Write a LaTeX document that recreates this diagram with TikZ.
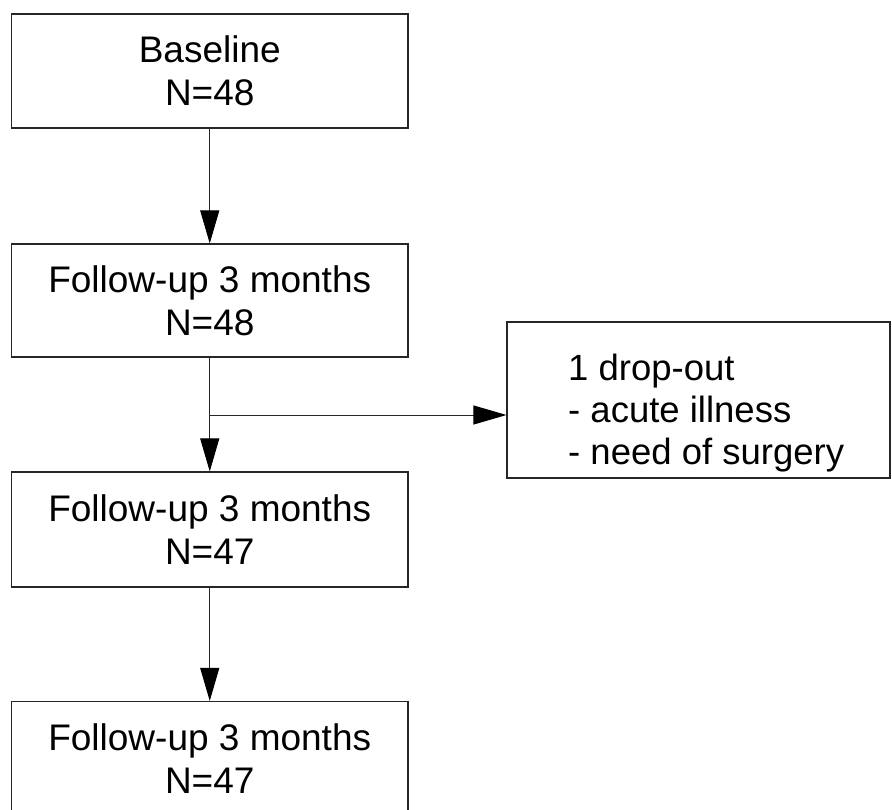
\documentclass[tikz,border=0pt]{standalone}
\usepackage{fontspec}
\setmainfont{Liberation Sans}
\usetikzlibrary{arrows.meta}
\begin{document}
\begin{tikzpicture}[x=1pt,y=-1pt,
  box/.style={draw=black!85,line width=1.1pt,minimum width=396.5pt,inner sep=0pt,align=center,font=\fontsize{37}{43}\selectfont},
  conn/.style={draw=black!85,line width=1pt,-{Triangle[length=33pt,width=19pt,color=black]}}]
\useasboundingbox (0,0) rectangle (892,809);
\node[box,minimum height=114pt] (b1) at (209.75,71) {Baseline\\N=48};
\node[box,minimum height=113pt] (b2) at (209.75,300.5) {Follow-up 3 months\\N=48};
\node[box,minimum height=115pt] (b3) at (209.75,529.5) {Follow-up 3 months\\N=47};
\node[box,minimum height=115pt] (b4) at (209.75,759) {Follow-up 3 months\\N=47};
\node[draw=black!85,line width=1.1pt,minimum width=383pt,minimum height=156pt,inner sep=0pt] (drop) at (698.5,400) {};
\node[anchor=west,align=left,inner sep=0pt,font=\fontsize{36.5}{42}\selectfont] (droptext) at (568,413) {1 drop-out\\- acute illness\\- need of surgery};
\coordinate (br) at (209.75,415);
\draw[conn] (b1.south) -- (b2.north);
\draw[conn] (b2.south) -- (b3.north);
\draw[conn] (b3.south) -- (b4.north);
\draw[conn] (br) -- (br -| drop.west);
\end{tikzpicture}
\end{document}
